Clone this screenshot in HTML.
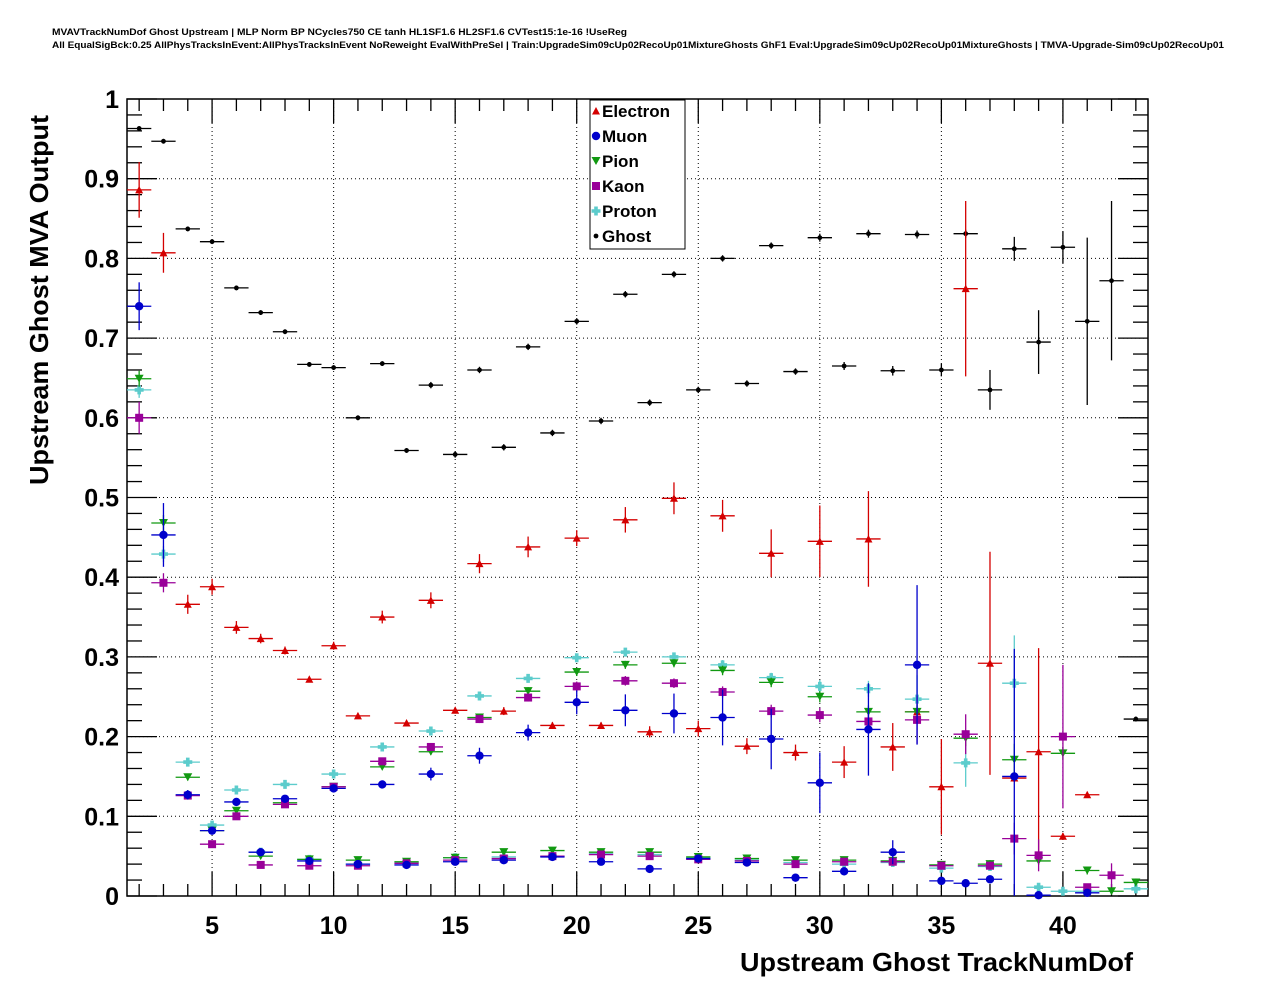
<!DOCTYPE html>
<html><head><meta charset="utf-8"><style>
body{margin:0;background:#fff;}
svg{display:block;font-family:"Liberation Sans",Arial,sans-serif;}
</style></head><body>
<svg id="c" width="1276" height="996" viewBox="0 0 1276 996" xmlns="http://www.w3.org/2000/svg">
<rect width="1276" height="996" fill="#fff"/>
<text x="52" y="35" font-size="9" font-weight="bold" textLength="575" lengthAdjust="spacingAndGlyphs">MVAVTrackNumDof Ghost Upstream | MLP Norm BP NCycles750 CE tanh HL1SF1.6 HL2SF1.6 CVTest15:1e-16 !UseReg</text>
<text x="52" y="48" font-size="9" font-weight="bold" textLength="1172" lengthAdjust="spacingAndGlyphs">All EqualSigBck:0.25 AllPhysTracksInEvent:AllPhysTracksInEvent NoReweight EvalWithPreSel | Train:UpgradeSim09cUp02RecoUp01MixtureGhosts GhF1 Eval:UpgradeSim09cUp02RecoUp01MixtureGhosts | TMVA-Upgrade-Sim09cUp02RecoUp01</text>
<g id="grid"></g>
<g id="axes"></g>
<g id="marks"></g>
<text x="1133" y="971" text-anchor="end" font-size="26" font-weight="bold" textLength="393" lengthAdjust="spacingAndGlyphs">Upstream Ghost TrackNumDof</text>
<text transform="translate(48,300) rotate(-90)" text-anchor="middle" font-size="26" font-weight="bold" textLength="370" lengthAdjust="spacingAndGlyphs">Upstream Ghost MVA Output</text>
<g id="legend"></g>
</svg>
<script>
const xs=[2,3,4,5,6,7,8,9,10,11,12,13,14,15,16,17,18,19,20,21,22,23,24,25,26,27,28,29,30,31,32,33,34,35,36,37,38,39,40,41,42,43];
const ghost=[0.963,0.947,0.837,0.821,0.763,0.732,0.708,0.667,0.663,0.600,0.668,0.559,0.641,0.554,0.660,0.563,0.689,0.581,0.721,0.596,0.755,0.619,0.780,0.635,0.800,0.643,0.816,0.658,0.826,0.665,0.831,0.659,0.830,0.660,0.831,0.635,0.812,0.695,0.814,0.721,0.772,0.222];
const ghostErr=[0.003,0.003,0.003,0.003,0.003,0.003,0.003,0.003,0.003,0.003,0.003,0.003,0.004,0.004,0.004,0.004,0.004,0.004,0.004,0.004,0.004,0.004,0.004,0.004,0.004,0.004,0.004,0.004,0.005,0.005,0.005,0.006,0.005,0.008,0.005,0.025,0.015,0.04,0.02,0.105,0.1,0.003];
const electron=[0.886,0.807,0.366,0.388,0.337,0.323,0.308,0.272,0.314,0.226,0.350,0.217,0.371,0.233,0.417,0.232,0.438,0.214,0.449,0.214,0.472,0.206,0.499,0.210,0.477,0.188,0.430,0.180,0.445,0.168,0.448,0.187,0.231,0.137,0.762,0.292,0.148,0.181,0.075,0.127,null,null];
const electronErr=[0.035,0.025,0.012,0.01,0.008,0.006,0.005,0.003,0.005,0.003,0.008,0.003,0.01,0.003,0.012,0.005,0.013,0.004,0.01,0.004,0.016,0.007,0.02,0.01,0.02,0.01,0.03,0.01,0.045,0.02,0.06,0.03,0.005,0.06,0.11,0.14,0.005,0.13,0.004,0.002,0,0];
const muon=[0.740,0.453,0.127,0.082,0.118,0.055,0.122,0.044,0.135,0.040,0.140,0.039,0.153,0.043,0.176,0.045,0.205,0.049,0.243,0.043,0.233,0.034,0.229,0.047,0.224,0.042,0.197,0.023,0.142,0.031,0.209,0.055,0.290,0.019,0.016,0.021,0.150,0.001,null,0.004,null,null];
const muonErr=[0.03,0.04,0.006,0.004,0.005,0.003,0.004,0.002,0.005,0.002,0.005,0.003,0.008,0.003,0.01,0.002,0.01,0.002,0.015,0.002,0.02,0.002,0.025,0.002,0.035,0.003,0.038,0.003,0.038,0.005,0.058,0.015,0.1,0.005,0.003,0.005,0.16,0.003,0,0.002,0,0];
const pion=[0.649,0.468,0.149,0.082,0.107,0.050,0.117,0.046,0.137,0.045,0.162,0.043,0.181,0.048,0.224,0.055,0.257,0.057,0.281,0.055,0.290,0.055,0.292,0.049,0.283,0.047,0.268,0.045,0.250,0.045,0.231,0.044,0.231,0.039,0.198,0.040,0.171,0.044,0.179,0.032,0.006,0.017];
const pionErr=[0.01,0.01,0.004,0.003,0.003,0.002,0.003,0.002,0.003,0.002,0.003,0.002,0.004,0.002,0.004,0.002,0.005,0.002,0.005,0.002,0.005,0.002,0.005,0.002,0.006,0.002,0.006,0.003,0.007,0.003,0.008,0.004,0.008,0.005,0.01,0.005,0.02,0.005,0.008,0.005,0.003,0.005];
const kaon=[0.600,0.393,0.126,0.065,0.100,0.039,0.115,0.038,0.137,0.038,0.169,0.041,0.187,0.045,0.222,0.047,0.249,0.050,0.263,0.052,0.270,0.050,0.267,0.046,0.256,0.044,0.232,0.040,0.227,0.043,0.219,0.043,0.221,0.038,0.203,0.038,0.072,0.051,0.200,0.011,0.026,null];
const kaonErr=[0.02,0.012,0.004,0.003,0.003,0.002,0.003,0.002,0.004,0.002,0.004,0.002,0.005,0.002,0.005,0.002,0.005,0.002,0.006,0.002,0.006,0.002,0.006,0.003,0.007,0.003,0.008,0.003,0.009,0.004,0.01,0.005,0.03,0.005,0.025,0.005,0.02,0.02,0.09,0.004,0.015,0];
const proton=[0.635,0.429,0.168,0.089,0.133,0.055,0.140,0.046,0.153,0.040,0.187,0.042,0.207,0.048,0.251,0.049,0.273,0.050,0.299,0.053,0.306,0.052,0.300,0.048,0.290,0.045,0.274,0.042,0.263,0.040,0.260,0.042,0.247,0.035,0.167,0.037,0.267,0.011,0.006,0.006,null,0.009];
const protonErr=[0.01,0.01,0.004,0.003,0.003,0.002,0.003,0.002,0.003,0.002,0.004,0.002,0.004,0.002,0.004,0.002,0.005,0.002,0.005,0.002,0.005,0.002,0.005,0.002,0.006,0.003,0.006,0.003,0.008,0.003,0.01,0.004,0.03,0.005,0.03,0.005,0.06,0.005,0.003,0.003,0,0.003];
const yTicks=[0,0.1,0.2,0.3,0.4,0.5,0.6,0.7,0.8,0.9,1];
const yTickLabels=["0","0.1","0.2","0.3","0.4","0.5","0.6","0.7","0.8","0.9","1"];
const xTicks=[5,10,15,20,25,30,35,40];
const legendNames=["Electron","Muon","Pion","Kaon","Proton","Ghost"];

const NS="http://www.w3.org/2000/svg";
const L=127,R=1148,T=99,B=896,XMIN=1.5,XMAX=43.5;
function X(v){return L+(v-XMIN)/(XMAX-XMIN)*(R-L);}
function Y(v){return B-v*(B-T);}
function mk(tag,attrs,parent){const e=document.createElementNS(NS,tag);for(const k in attrs)e.setAttribute(k,attrs[k]);parent.appendChild(e);return e;}
const grid=document.getElementById('grid'),axes=document.getElementById('axes'),marks=document.getElementById('marks'),leg=document.getElementById('legend');

yTicks.forEach(v=>{if(v>0&&v<1){const l=mk('line',{x1:L,x2:R,y1:Y(v),y2:Y(v),stroke:'#000','stroke-width':1,'stroke-dasharray':'1,3'},grid);

}});
xTicks.forEach(v=>{const l=mk('line',{x1:X(v),x2:X(v),y1:T,y2:B,stroke:'#000','stroke-width':1,'stroke-dasharray':'1,3'},grid);

});

const fr=mk('rect',{x:L,y:T,width:R-L,height:B-T,fill:'none',stroke:'#000','stroke-width':1.5},axes);


for(let i=0;i<=50;i++){const v=i*0.02;const maj=i%5===0;const len=maj?30:15;
 mk('line',{x1:L,x2:L+len,y1:Y(v),y2:Y(v),stroke:'#000','stroke-width':1.3},axes);
 mk('line',{x1:R,x2:R-len,y1:Y(v),y2:Y(v),stroke:'#000','stroke-width':1.3},axes);}
yTicks.forEach((v,i)=>{const t=mk('text',{x:119,y:Y(v)+9,'text-anchor':'end','font-size':25,'font-weight':'bold'},axes);t.textContent=yTickLabels[i];

});
for(let v=2;v<=43;v++){const maj=v%5===0;const len=maj?24:12;
 mk('line',{x1:X(v),x2:X(v),y1:B,y2:B-len,stroke:'#000','stroke-width':1.3},axes);
 mk('line',{x1:X(v),x2:X(v),y1:T,y2:T+len,stroke:'#000','stroke-width':1.3},axes);}
xTicks.forEach(v=>{const t=mk('text',{x:X(v),y:934,'text-anchor':'middle','font-size':25,'font-weight':'bold'},axes);t.textContent=String(v);

});

function marker(kind,cx,cy,col,g){
 if(kind==='tu')return mk('polygon',{points:`${cx-4},${cy+3.5} ${cx+4},${cy+3.5} ${cx},${cy-4}`,fill:col},g);
 if(kind==='td')return mk('polygon',{points:`${cx-4.5},${cy-4} ${cx+4.5},${cy-4} ${cx},${cy+4}`,fill:col},g);
 if(kind==='c')return mk('circle',{cx:cx,cy:cy,r:4.2,fill:col},g);
 if(kind==='s')return mk('rect',{x:cx-4,y:cy-4,width:8,height:8,fill:col},g);
 if(kind==='p')return mk('path',{d:`M${cx-1.8},${cy-4.5}h3.6v2.7h2.7v3.6h-2.7v2.7h-3.6v-2.7h-2.7v-3.6h2.7z`,fill:col},g);
 if(kind==='d')return mk('circle',{cx:cx,cy:cy,r:2.4,fill:col},g);
}
const series=[
 {name:'ghost',vals:ghost,err:ghostErr,col:'#000',k:'d'},
 {name:'electron',vals:electron,err:electronErr,col:'#d40000',k:'tu'},
 {name:'proton',vals:proton,err:protonErr,col:'#5ccccc',k:'p'},
 {name:'pion',vals:pion,err:pionErr,col:'#119911',k:'td'},
 {name:'kaon',vals:kaon,err:kaonErr,col:'#990099',k:'s'},
 {name:'muon',vals:muon,err:muonErr,col:'#0000cc',k:'c'}
];
const hw=(X(1)-X(0))/2;
series.forEach(s=>{const g=mk('g',{},marks);
 
 
 xs.forEach((x,i)=>{const v=s.vals[i];if(v===null||v===undefined)return;
  const cx=X(x),cy=Y(v),e=s.err[i]||0;
  mk('line',{x1:cx-hw,x2:cx+hw,y1:cy,y2:cy,stroke:s.col,'stroke-width':1.3},g);
  if(e>0)mk('line',{x1:cx,x2:cx,y1:Y(Math.min(1,v+e)),y2:Y(Math.max(0,v-e)),stroke:s.col,'stroke-width':1.3},g);
  const m=marker(s.k,cx,cy,s.col,g);
  
  
 });
});

const lb=mk('rect',{x:590,y:100,width:95,height:149,fill:'#fff',stroke:'#000','stroke-width':1},leg);


const legStyle=[['tu','#d40000'],['c','#0000cc'],['td','#119911'],['s','#990099'],['p','#5ccccc'],['d','#000']];
legendNames.forEach((n,i)=>{const y=111+i*25;
 const g=mk('g',{},leg);
 
 
 marker(legStyle[i][0],596,y,legStyle[i][1],g);
 const t=mk('text',{x:602,y:y+6,'font-size':17,'font-weight':'bold'},g);t.textContent=n;
});
</script>
</body></html>
